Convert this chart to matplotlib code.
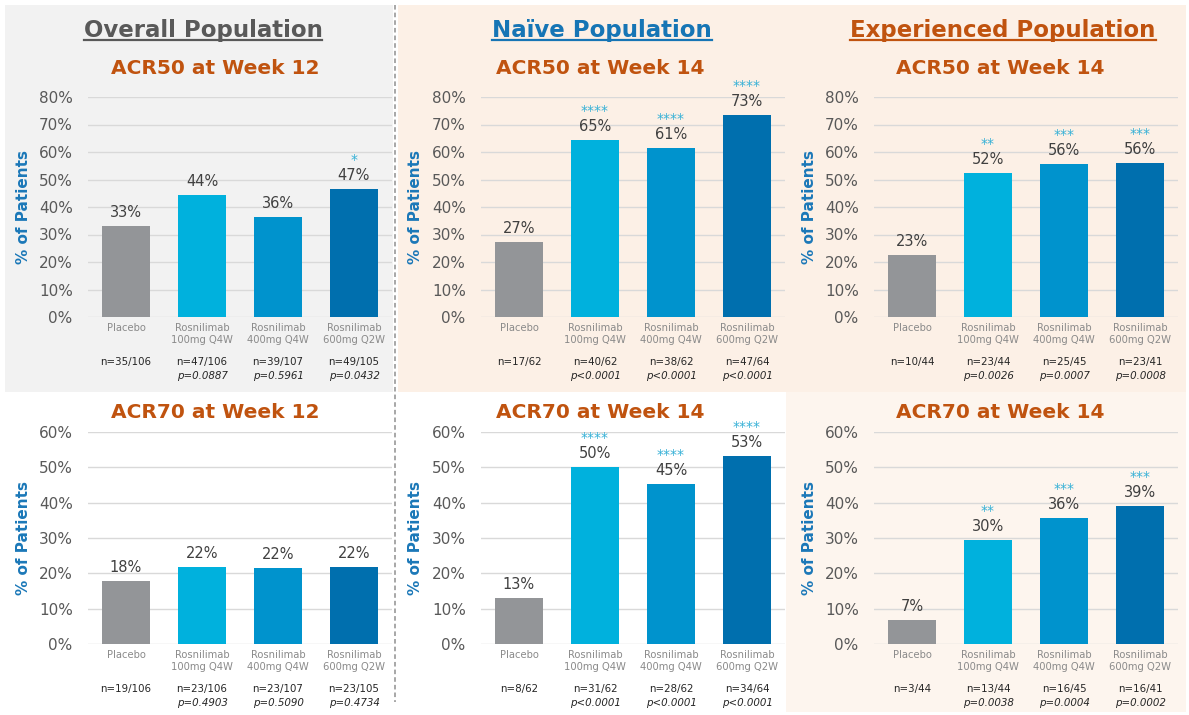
import matplotlib
matplotlib.use("Agg")
import matplotlib.pyplot as plt
from matplotlib.patches import Rectangle
from matplotlib.lines import Line2D

W, H = 1189, 715

categories = ["Placebo", "Rosnilimab\n100mg Q4W", "Rosnilimab\n400mg Q4W", "Rosnilimab\n600mg Q2W"]
bar_colors = ["#939598", "#00b1dd", "#0093cd", "#006fae"]

# Values (%)
overall_acr50 = [33.0, 44.3, 36.4, 46.7]
overall_acr70 = [17.9, 21.7, 21.5, 21.9]
naive_acr50 = [27.4, 64.5, 61.3, 73.4]
naive_acr70 = [12.9, 50.0, 45.2, 53.1]
exp_acr50 = [22.7, 52.3, 55.6, 56.1]
exp_acr70 = [6.8, 29.5, 35.6, 39.0]

overall_acr50_lbl = ["33%", "44%", "36%", "47%"]
overall_acr70_lbl = ["18%", "22%", "22%", "22%"]
naive_acr50_lbl = ["27%", "65%", "61%", "73%"]
naive_acr70_lbl = ["13%", "50%", "45%", "53%"]
exp_acr50_lbl = ["23%", "52%", "56%", "56%"]
exp_acr70_lbl = ["7%", "30%", "36%", "39%"]

overall_acr50_stars = ["", "", "", "*"]
overall_acr70_stars = ["", "", "", ""]
naive_acr50_stars = ["", "****", "****", "****"]
naive_acr70_stars = ["", "****", "****", "****"]
exp_acr50_stars = ["", "**", "***", "***"]
exp_acr70_stars = ["", "**", "***", "***"]

overall_acr50_n = ["n=35/106", "n=47/106", "n=39/107", "n=49/105"]
overall_acr50_p = ["", "p=0.0887", "p=0.5961", "p=0.0432"]
overall_acr70_n = ["n=19/106", "n=23/106", "n=23/107", "n=23/105"]
overall_acr70_p = ["", "p=0.4903", "p=0.5090", "p=0.4734"]
naive_acr50_n = ["n=17/62", "n=40/62", "n=38/62", "n=47/64"]
naive_acr50_p = ["", "p<0.0001", "p<0.0001", "p<0.0001"]
naive_acr70_n = ["n=8/62", "n=31/62", "n=28/62", "n=34/64"]
naive_acr70_p = ["", "p<0.0001", "p<0.0001", "p<0.0001"]
exp_acr50_n = ["n=10/44", "n=23/44", "n=25/45", "n=23/41"]
exp_acr50_p = ["", "p=0.0026", "p=0.0007", "p=0.0008"]
exp_acr70_n = ["n=3/44", "n=13/44", "n=16/45", "n=16/41"]
exp_acr70_p = ["", "p=0.0038", "p=0.0004", "p=0.0002"]

column_titles = ["Overall Population", "Naïve Population", "Experienced Population"]
column_title_colors = ["#595959", "#1675b5", "#c0530f"]
panel_titles = [["ACR50 at Week 12", "ACR50 at Week 14", "ACR50 at Week 14"],
                ["ACR70 at Week 12", "ACR70 at Week 14", "ACR70 at Week 14"]]

fig = plt.figure(figsize=(W / 100, H / 100), dpi=100)
fig.patch.set_facecolor("white")


def fx(x):
    return x / W


def fy(y):
    return 1 - y / H


def rect(x0, y0, x1, y1, color):
    fig.patches.append(Rectangle((fx(x0), fy(y1)), fx(x1) - fx(x0), fy(y0) - fy(y1),
                                 transform=fig.transFigure, facecolor=color,
                                 edgecolor="none", zorder=-10))


# backgrounds
rect(5, 5, 393, 392, "#f2f2f2")
rect(398, 5, 1186, 392, "#fcf0e6")
rect(786, 392, 1186, 712, "#fdf5ee")

# divider
fig.add_artist(Line2D([fx(395), fx(395)], [fy(5), fy(702)], transform=fig.transFigure,
                      color="#8f8f8f", lw=1.1, ls=(0, (3, 2))))

col_left = [88, 481, 874]
col_title_x = [203, 602, 1003]
panel_title_x = [215, 600, 1000]
axw = 304

rows = [
    dict(top=97, bottom=317, ymax=80, title_y=69,
         data=[(overall_acr50, overall_acr50_lbl, overall_acr50_stars, overall_acr50_n, overall_acr50_p),
               (naive_acr50, naive_acr50_lbl, naive_acr50_stars, naive_acr50_n, naive_acr50_p),
               (exp_acr50, exp_acr50_lbl, exp_acr50_stars, exp_acr50_n, exp_acr50_p)]),
    dict(top=432, bottom=644, ymax=60, title_y=412,
         data=[(overall_acr70, overall_acr70_lbl, overall_acr70_stars, overall_acr70_n, overall_acr70_p),
               (naive_acr70, naive_acr70_lbl, naive_acr70_stars, naive_acr70_n, naive_acr70_p),
               (exp_acr70, exp_acr70_lbl, exp_acr70_stars, exp_acr70_n, exp_acr70_p)]),
]

PT = 0.72  # points per pixel

for r, row in enumerate(rows):
    for c in range(3):
        vals, lbls, stars, ns, ps = row["data"][c]
        ax = fig.add_axes([fx(col_left[c]), fy(row["bottom"]), axw / W,
                           (row["bottom"] - row["top"]) / H])
        ax.patch.set_alpha(0)
        x = list(range(4))
        ax.bar(x, vals, width=0.63, color=bar_colors, zorder=3)
        ax.set_xlim(-0.5, 3.5)
        ax.set_ylim(0, row["ymax"])
        ticks = list(range(0, row["ymax"] + 1, 10))
        ax.set_yticks(ticks)
        ax.set_yticklabels([f"{t}%" for t in ticks], fontsize=11, color="#595959")
        ax.set_xticks([])
        ax.tick_params(axis="y", length=0, pad=11)
        ax.grid(axis="y", color="#d9d9d9", lw=1.0, zorder=0)
        for s in ax.spines.values():
            s.set_visible(False)
        for i in range(4):
            ax.annotate(lbls[i], (x[i], vals[i]), xytext=(0, 9 * PT), textcoords="offset points",
                        ha="center", va="baseline", fontsize=10.5, color="#404040",
                        annotation_clip=False)
            if stars[i]:
                ax.annotate(stars[i], (x[i], vals[i]), xytext=(0, 25 * PT), textcoords="offset points",
                            ha="center", va="baseline", fontsize=10, color="#35b0d6",
                            annotation_clip=False)
            ax.annotate(categories[i], (x[i], 0), xytext=(0, -6 * PT), textcoords="offset points",
                        ha="center", va="top", fontsize=7.2, color="#8a8a8a",
                        linespacing=1.3, annotation_clip=False)
            ax.annotate(ns[i], (x[i], 0), xytext=(0, -45 * PT), textcoords="offset points",
                        ha="center", va="center", fontsize=7.4, color="#262626",
                        annotation_clip=False)
            if ps[i]:
                ax.annotate(ps[i], (x[i], 0), xytext=(0, -59 * PT), textcoords="offset points",
                            ha="center", va="center", fontsize=7.4, color="#262626",
                            style="italic", annotation_clip=False)
        # y label
        fig.text(fx(col_left[c] - 65), fy((row["top"] + row["bottom"]) / 2), "% of Patients",
                 rotation=90, ha="center", va="center", fontsize=11, fontweight="bold",
                 color="#1b78b8")
        # panel title
        fig.text(fx(panel_title_x[c]), fy(row["title_y"]), panel_titles[r][c],
                 ha="center", va="center", fontsize=14.5, fontweight="bold", color="#c0530f")

# column titles with underline
title_texts = []
for c in range(3):
    t = fig.text(fx(col_title_x[c]), fy(30), column_titles[c], ha="center", va="center",
                 fontsize=16.5, fontweight="bold", color=column_title_colors[c])
    title_texts.append(t)

fig.canvas.draw()
renderer = fig.canvas.get_renderer()
for c, t in enumerate(title_texts):
    bb = t.get_window_extent(renderer)
    yline = bb.y0 + 2
    fig.add_artist(Line2D([bb.x0 / W, bb.x1 / W], [yline / H, yline / H],
                          transform=fig.transFigure, color=column_title_colors[c], lw=1.6))

fig.savefig("out.png", dpi=100)
